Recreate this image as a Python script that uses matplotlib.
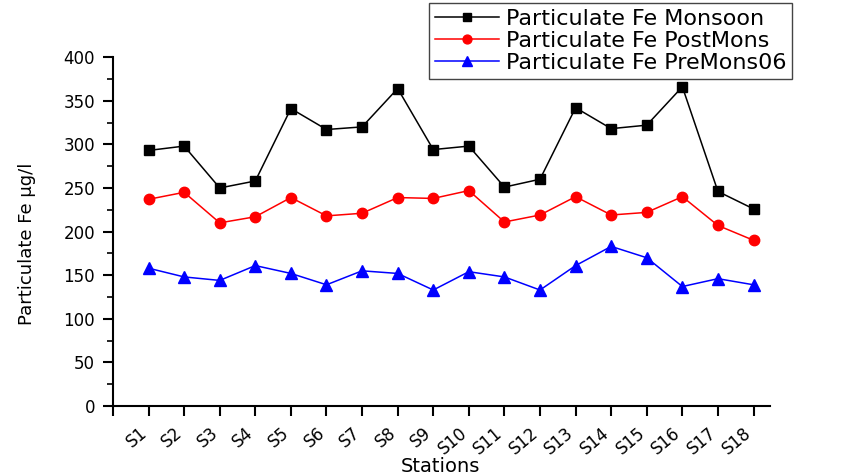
import numpy as np
import matplotlib
matplotlib.use("Agg")
import matplotlib.pyplot as plt
from matplotlib.ticker import MultipleLocator
from matplotlib.transforms import ScaledTranslation

stations = ["S%d" % i for i in range(1, 19)]
monsoon = [293, 298, 250, 258, 341, 317, 320, 364, 294, 298, 251, 260, 342, 318, 322, 366, 246, 226]
postmons = [237, 245, 210, 217, 239, 218, 221, 239, 238, 247, 211, 219, 240, 219, 222, 240, 207, 190]
premons = [158, 148, 144, 161, 152, 139, 155, 152, 133, 154, 148, 133, 161, 183, 170, 137, 146, 139]

plt.rcParams['font.family'] = ['DejaVu Sans']

fig = plt.figure(figsize=(8.45, 4.76), dpi=100)
ax = fig.add_axes([0.1337, 0.147, 0.777, 0.733])

x = np.arange(1, len(stations) + 1)
ax.plot(x, monsoon, color='black', lw=1.1, marker='s', ms=7, label='Particulate Fe Monsoon')
ax.plot(x, postmons, color='#ff0000', lw=1.1, marker='o', ms=7.5, label='Particulate Fe PostMons')
ax.plot(x, premons, color='#0000ff', lw=1.1, marker='^', ms=8, label='Particulate Fe PreMons06')

ax.set_xlim(0, 18.45)
ax.set_ylim(0, 400)
ax.set_xticks(np.arange(0, 19))
ax.yaxis.set_major_locator(MultipleLocator(50))
ax.yaxis.set_minor_locator(MultipleLocator(25))

for s in ['top', 'right']:
    ax.spines[s].set_visible(False)
for s in ['left', 'bottom']:
    ax.spines[s].set_linewidth(1.5)

ax.tick_params(axis='both', which='major', direction='out', length=7, width=1.5, labelsize=12)
ax.tick_params(axis='y', which='minor', direction='out', length=4, width=1.2)
ax.tick_params(axis='y', pad=6)
ax.tick_params(axis='x', pad=6)

ax.set_xticklabels([''] + stations, rotation=40, ha='right', rotation_mode='anchor')
# nudge rotated labels a little to the left so they sit under their ticks
shift = ScaledTranslation(-10 / 100, 0, fig.dpi_scale_trans)
for lbl in ax.get_xticklabels():
    lbl.set_transform(lbl.get_transform() + shift)

ax.set_xlabel('Stations', fontsize=14)
ax.xaxis.set_label_coords(0.498, -0.146)
ax.set_ylabel('Particulate Fe \u00b5g/l', fontsize=13)
ax.yaxis.set_label_coords(-0.118, 0.464)

leg = ax.legend(loc='upper left', bbox_to_anchor=(429 / 845, 1 - 3 / 476),
                bbox_transform=fig.transFigure, borderaxespad=0, fontsize=16,
                fancybox=False, framealpha=1, edgecolor='#444444',
                handlelength=2.9, handletextpad=0.3, labelspacing=0.1,
                borderpad=0.25, markerscale=0.85)
leg.get_frame().set_linewidth(1.0)

fig.savefig('out.png', dpi=100)
